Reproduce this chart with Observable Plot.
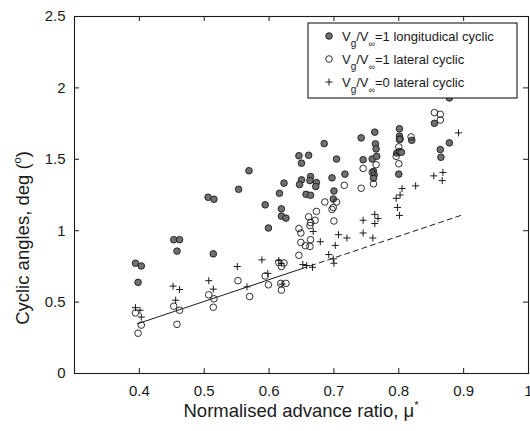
<!DOCTYPE html>
<html><head><meta charset="utf-8">
<script src="https://cdn.jsdelivr.net/npm/d3@7"></script>
<script src="https://cdn.jsdelivr.net/npm/@observablehq/plot@0.6"></script>
<style>
body{margin:0;background:#fff;}
#chart{width:530px;height:431px;}
</style></head><body><div id="chart"></div>
<script>
// Vg/V∞=1 longitudinal cyclic (filled grey circles)
const longX = [0.394,0.403,0.398, 0.453,0.462,0.458, 0.506,0.515,0.514, 0.553,0.569, 0.594,0.599,
  0.616,0.623,0.619,0.619,0.626, 0.646,0.661,0.650,0.650,0.647,0.664,0.663,0.673,0.672,0.657,0.664,
  0.685,0.704,0.697,0.717,0.700,0.699, 0.742,0.763,0.745,0.759,0.764,0.765,0.766,0.761,0.762,0.761,
  0.801,0.801,0.802,0.797,0.801,0.804,0.800,0.820, 0.855,0.878,0.864,0.865,0.878];
const longY = [0.772,0.753,0.638, 0.937,0.937,0.857, 1.234,1.220,0.838, 1.290,1.420, 1.181,1.019,
  1.262,1.333,1.153,1.102,1.088, 1.525,1.528,1.473,1.356,1.323,1.379,1.351,1.337,1.309,1.255,1.248,
  1.610,1.502,1.370,1.396,1.278,1.222, 1.650,1.690,1.497,1.502,1.608,1.573,1.521,1.415,1.391,1.368,
  1.714,1.662,1.643,1.544,1.554,1.549,1.396,1.633, 1.752,1.615,1.568,1.514,1.930];
// Vg/V∞=1 lateral cyclic (open circles)
const latX = [0.394,0.403,0.398, 0.453,0.462,0.458, 0.507,0.515,0.514, 0.552,0.570, 0.594,0.599,
  0.615,0.623,0.619,0.618,0.626,0.619, 0.646,0.649,0.649,0.656,0.663,0.664,0.646,0.661,0.664,0.663,0.673,0.671,
  0.686,0.704,0.697,0.699,0.700,0.716, 0.745,0.742,0.761,0.759,0.765,
  0.801,0.800,0.796,0.800,0.819, 0.855,0.864,0.864];
const latY = [0.424,0.339,0.282, 0.471,0.443,0.344, 0.551,0.523,0.464, 0.650,0.539, 0.683,0.621,
  0.777,0.774,0.749,0.631,0.631,0.584, 1.015,0.984,0.918,0.895,0.890,0.937,0.828,1.097,1.057,1.036,1.135,1.073,
  1.201,1.201,1.149,1.163,1.068,1.318, 1.436,1.297,1.328,1.408,1.462,
  1.638,1.587,1.521,1.469,1.657, 1.827,1.815,1.775];
// Vg/V∞=0 lateral cyclic (plus markers)
const lat0X = [0.394,0.401,0.403, 0.452,0.462,0.456, 0.507,0.514, 0.551,0.566, 0.589,0.598,
  0.615,0.619,0.620, 0.652,0.658,0.667, 0.668,0.679, 0.692,0.699,0.700,0.702,0.707,0.720,
  0.745,0.745,0.760,0.763,0.763,0.768, 0.796,0.798,0.801,0.802,0.805, 0.826, 0.854,0.867,0.868, 0.892];
const lat0Y = [0.461,0.443,0.395, 0.612,0.588,0.513, 0.650,0.591, 0.749,0.607, 0.796,0.701,
  0.791,0.772,0.626, 0.763,0.756,0.744, 0.994,0.923, 0.833,0.803,0.772,0.897,0.972,0.949,
  1.073,0.984,0.949,1.114,1.050,1.085, 1.227,1.163,1.107,1.250,1.295, 1.314, 1.384,1.351,1.408, 1.685];
// trend line: solid part and dashed extrapolation
const fitSolidX = [0.397, 0.651];
const fitSolidY = [0.348, 0.735];
const fitDashX = [0.651, 0.897];
const fitDashY = [0.735, 1.109];
// axis ticks
const xTicks = [0.4,0.5,0.6,0.7,0.8,0.9,1];
const yTicks = [0,0.5,1,1.5,2,2.5];
const seriesNames = ["longitudical cyclic", "lateral cyclic", "lateral cyclic"];
const seriesRatio = ["1", "1", "0"];

const zip = (xs, ys) => xs.map((x, i) => ({x, y: ys[i]}));
const longitudinal = zip(longX, longY);
const lateral = zip(latX, latY);
const lateral0 = zip(lat0X, lat0Y);
const fitSolid = zip(fitSolidX, fitSolidY);
const fitDash = zip(fitDashX, fitDashY);

const W = 530, H = 431, mL = 74, mR = 2, mT = 16, mB = 58;
const pw = W - mL - mR, ph = H - mT - mB, tk = 5;
const ink = "#1a1a1a";
const font = "'Liberation Sans', Arial, Helvetica, sans-serif";

const fig = Plot.plot({
  width: W, height: H,
  marginLeft: mL, marginRight: mR, marginTop: mT, marginBottom: mB,
  style: {fontFamily: font, fontSize: "15px", color: ink, background: "#fff", overflow: "visible"},
  x: {domain: [0.3, 1], label: null},
  y: {domain: [0, 2.5], label: null},
  marks: [
    Plot.dot(longitudinal, {x: "x", y: "y", r: 3.3, fill: "#707070", stroke: ink, strokeWidth: 0.9}),
    Plot.dot(lateral, {x: "x", y: "y", r: 3.3, fill: "none", stroke: ink, strokeWidth: 0.9}),
    Plot.dot(lateral0, {x: "x", y: "y", r: 2.4, symbol: "plus", stroke: ink, strokeWidth: 1}),
    Plot.line(fitSolid, {x: "x", y: "y", stroke: ink, strokeWidth: 1}),
    Plot.line(fitDash, {x: "x", y: "y", stroke: ink, strokeWidth: 1, strokeDasharray: "5,4"}),
    Plot.tickX(xTicks, {x: d => d, insetTop: ph - tk, stroke: ink}),
    Plot.tickX(xTicks, {x: d => d, insetBottom: ph - tk, stroke: ink}),
    Plot.tickY(yTicks, {y: d => d, insetRight: pw - tk, stroke: ink}),
    Plot.tickY(yTicks, {y: d => d, insetLeft: pw - tk, stroke: ink}),
    Plot.frame({stroke: ink, strokeWidth: 1.1}),
    Plot.axisX(xTicks, {tickSize: 0, tickPadding: 12, fontSize: 15, tickFormat: d => d === 1 ? "1" : d.toFixed(1)}),
    Plot.axisY(yTicks, {tickSize: 0, tickPadding: 9, fontSize: 15, tickFormat: d => String(d)})
  ]
});
document.getElementById("chart").appendChild(fig);

const svg = d3.select(fig);
// axis titles
const xt = svg.append("text").attr("x", mL + pw / 2).attr("y", 417).attr("text-anchor", "middle")
  .attr("font-family", font).attr("font-size", 18.5).attr("fill", ink);
xt.append("tspan").text("Normalised advance ratio, \u03bc");
xt.append("tspan").attr("dy", -8).attr("font-size", 11).text("*");

const yt = svg.append("text").attr("transform", `translate(29,238) rotate(-90)`)
  .attr("text-anchor", "middle").attr("font-family", font).attr("font-size", 18.5).attr("fill", ink);
yt.append("tspan").text("Cyclic angles, deg (");
yt.append("tspan").attr("dy", -8).attr("font-size", 11).text("o");
yt.append("tspan").attr("dy", 8).text(")");

// legend
const lg = svg.append("g").attr("transform", "translate(308,23)");
lg.append("rect").attr("width", 209).attr("height", 75).attr("fill", "#fff").attr("stroke", ink).attr("stroke-width", 1.1);
const rowY = [13, 36, 59];
rowY.forEach((ry, i) => {
  const mx = 21;
  if (i === 0) lg.append("circle").attr("cx", mx).attr("cy", ry).attr("r", 3.3).attr("fill", "#707070").attr("stroke", ink).attr("stroke-width", 0.9);
  if (i === 1) lg.append("circle").attr("cx", mx).attr("cy", ry).attr("r", 3.3).attr("fill", "none").attr("stroke", ink).attr("stroke-width", 0.9);
  if (i === 2) lg.append("path").attr("d", `M${mx-3.5},${ry}H${mx+3.5}M${mx},${ry-3.5}V${ry+3.5}`).attr("stroke", ink).attr("stroke-width", 1);
  const t = lg.append("text").attr("x", 34).attr("y", ry + 4.5).attr("text-anchor", "start")
    .attr("font-family", font).attr("font-size", 13).attr("fill", ink);
  t.append("tspan").text("V");
  t.append("tspan").attr("dy", 6).attr("font-size", 10).text("g");
  t.append("tspan").attr("dy", -6).text("/V");
  t.append("tspan").attr("dy", 6).attr("font-size", 9).text("\u221e");
  t.append("tspan").attr("dy", -6).text("=" + seriesRatio[i] + " " + seriesNames[i]);
});
</script>
</body></html>
